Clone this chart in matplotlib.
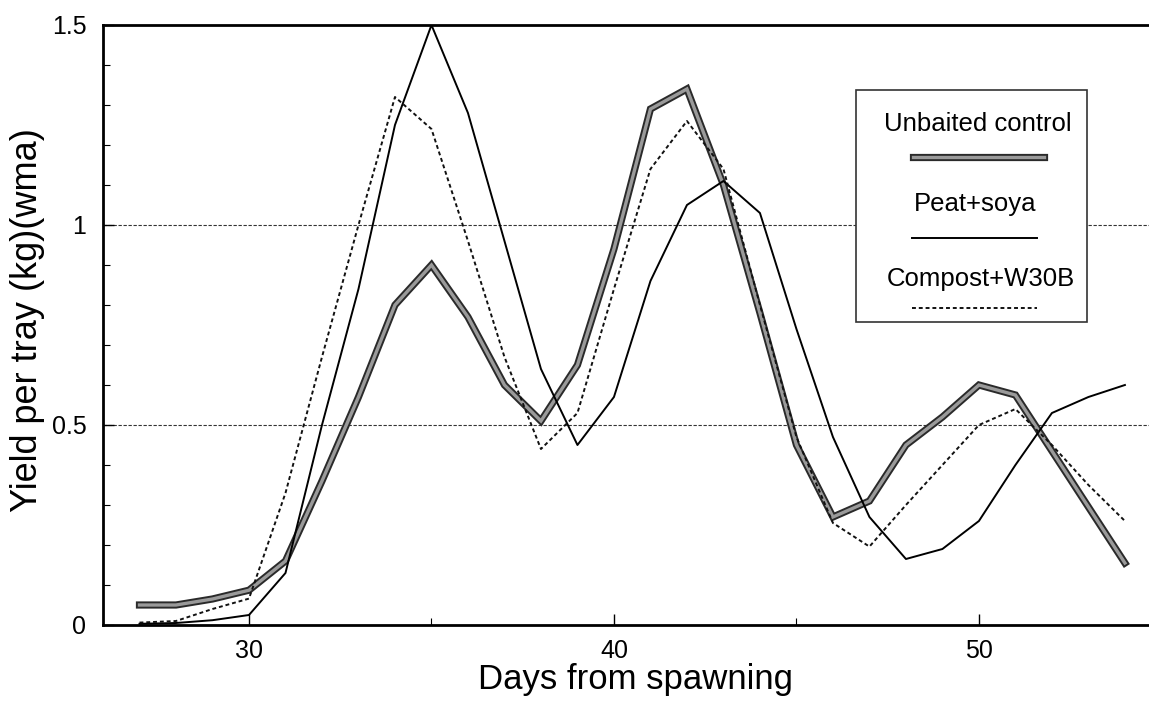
import matplotlib
matplotlib.use("Agg")
import matplotlib.pyplot as plt
from matplotlib.patches import Rectangle
from matplotlib.lines import Line2D
from matplotlib.ticker import MultipleLocator

plt.rcParams['font.family'] = ['Liberation Sans', 'DejaVu Sans']

days = list(range(27, 55))
unbaited = [0.05, 0.05, 0.065, 0.087, 0.16, 0.36, 0.57, 0.80, 0.90, 0.77, 0.60, 0.51,
            0.65, 0.94, 1.29, 1.34, 1.10, 0.78, 0.45, 0.27, 0.31, 0.45, 0.52, 0.60,
            0.575, 0.435, 0.295, 0.155]
peat_soya = [0.003, 0.005, 0.012, 0.025, 0.13, 0.50, 0.84, 1.25, 1.50, 1.28, 0.96, 0.64,
             0.45, 0.57, 0.86, 1.05, 1.11, 1.03, 0.74, 0.47, 0.27, 0.165, 0.19, 0.26,
             0.40, 0.53, 0.57, 0.60]
compost = [0.006, 0.01, 0.04, 0.066, 0.33, 0.67, 1.00, 1.32, 1.24, 0.96, 0.67, 0.44,
           0.53, 0.84, 1.14, 1.26, 1.14, 0.80, 0.47, 0.255, 0.196, 0.30, 0.40, 0.50,
           0.54, 0.45, 0.35, 0.26]
series_names = ["Unbaited control", "Peat+soya", "Compost+W30B"]
x_ticks = [30, 40, 50]
y_ticks = [0, 0.5, 1, 1.5]
y_tick_labels = ["0", "0.5", "1", "1.5"]

W, H = 1149.0, 705.0
fig = plt.figure(figsize=(W / 100, H / 100), dpi=100)
ax = fig.add_axes([103 / W, 80 / H, 1046 / W, 600 / H])

ax.set_xlim(26, 54.66)
ax.set_ylim(0, 1.5)

for g in [0.5, 1.0]:
    ax.axhline(g, color='#333333', lw=0.8, ls=(0, (3, 1.5)), zorder=1)

THICK_OUT, THICK_IN = 5.2, 2.4
ax.plot(days, unbaited, color='#2a2a2a', lw=THICK_OUT, solid_joinstyle='miter', zorder=3)
ax.plot(days, unbaited, color='#9a9a9a', lw=THICK_IN, solid_joinstyle='miter', zorder=4)
ax.plot(days, peat_soya, color='black', lw=1.4, zorder=5)
ax.plot(days, compost, color='#111111', lw=1.4, ls=(0, (2.0, 1.5)), zorder=5)

ax.set_xticks(x_ticks)
ax.set_xticklabels([str(t) for t in x_ticks])
ax.xaxis.set_minor_locator(MultipleLocator(5))
ax.set_yticks(y_ticks)
ax.set_yticklabels(y_tick_labels)
ax.yaxis.set_minor_locator(MultipleLocator(0.1))
ax.tick_params(axis='both', which='major', direction='in', length=8, width=1,
               labelsize=18)
ax.tick_params(axis='both', which='minor', direction='in', length=5, width=0.8)
ax.tick_params(axis='x', which='major', pad=10)
ax.tick_params(axis='y', which='major', pad=12)

for s in ['left', 'bottom', 'top']:
    ax.spines[s].set_linewidth(2)
ax.spines['right'].set_visible(False)

ax.set_xlabel("Days from spawning", fontsize=25)
ax.xaxis.set_label_coords((635 - 103) / 1046, (625 - 663) / 600)
ax.set_ylabel("Yield per tray (kg)(wma)", fontsize=26)
ax.yaxis.set_label_coords((45 - 103) / 1046, (625 - 320) / 600)

# Legend drawn manually (label text above its line sample)
tr = fig.transFigure
def fx(px):
    return px / W
def fy(py):
    return 1 - py / H

fig.patches.append(Rectangle((fx(856), fy(322)), fx(1087) - fx(856), fy(90) - fy(322),
                             transform=tr, fill=True, facecolor='white',
                             edgecolor='#333333', lw=1.2, zorder=10))
LEG_FS = 18.5
fig.text(fx(978), fy(124), series_names[0], ha='center', va='center', fontsize=LEG_FS, zorder=11)
fig.lines.append(Line2D([fx(913), fx(1044)], [fy(157), fy(157)], transform=tr,
                        color='#2a2a2a', lw=THICK_OUT, zorder=11))
fig.lines.append(Line2D([fx(913), fx(1044)], [fy(157), fy(157)], transform=tr,
                        color='#9a9a9a', lw=THICK_IN, zorder=12))
fig.text(fx(975), fy(204), series_names[1], ha='center', va='center', fontsize=LEG_FS, zorder=11)
fig.lines.append(Line2D([fx(912), fx(1037)], [fy(238), fy(238)], transform=tr,
                        color='black', lw=1.4, zorder=11))
fig.text(fx(981), fy(279), series_names[2], ha='center', va='center', fontsize=LEG_FS, zorder=11)
fig.lines.append(Line2D([fx(912), fx(1037)], [fy(308), fy(308)], transform=tr,
                        color='#111111', lw=1.4, ls=(0, (2.0, 1.5)), zorder=11))

fig.savefig("out.png", dpi=100)
